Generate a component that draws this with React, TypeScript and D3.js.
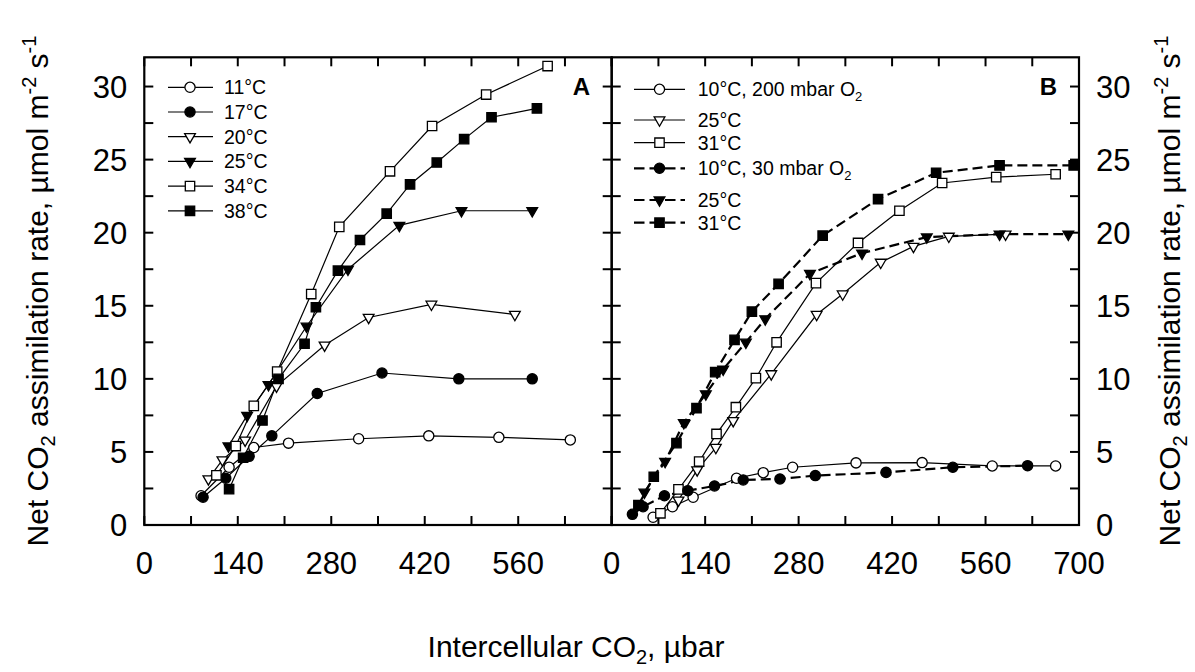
import React from 'react';
import * as d3 from 'd3';

const W = 1195;
const H = 672;
const FONT = "'Liberation Sans', Arial, Helvetica, sans-serif";

// ---------- Panel A data (intercellular CO2, µbar ; net assimilation) ----------
const a11X = [85, 127, 164, 216, 321, 426, 531, 638];
const a11Y = [2.0, 3.95, 5.3, 5.6, 5.9, 6.1, 6.0, 5.82];
const a17X = [88, 122, 157, 191, 259, 356, 471, 581];
const a17Y = [1.9, 3.2, 4.7, 6.1, 9.0, 10.4, 10.0, 10.0];
const a20X = [96, 117, 151, 198, 270, 336, 430, 555];
const a20Y = [3.15, 4.45, 5.8, 9.5, 12.3, 14.2, 15.1, 14.4];
const a25X = [126, 154, 186, 243, 305, 382, 475, 581];
const a25Y = [5.4, 7.5, 9.6, 13.6, 17.5, 20.5, 21.5, 21.5];
const a34X = [108, 137, 164, 199, 250, 292, 368, 431, 512, 604];
const a34Y = [3.4, 5.4, 8.15, 10.5, 15.8, 20.4, 24.2, 27.3, 29.45, 31.4];
const a38X = [127, 148, 177, 201, 240, 257, 290, 323, 363, 398, 438, 479, 520, 588];
const a38Y = [2.45, 4.6, 7.15, 10.0, 12.4, 14.9, 17.4, 19.5, 21.3, 23.3, 24.8, 26.4, 27.9, 28.5];

// ---------- Panel B data ----------
const b10hX = [62, 91, 122, 187, 227, 271, 366, 465, 570, 665];
const b10hY = [0.53, 1.25, 1.9, 3.2, 3.58, 3.95, 4.25, 4.27, 4.04, 4.04];
const b25hX = [100, 128, 156, 182, 239, 307, 346, 403, 452, 505, 590];
const b25hY = [1.7, 3.77, 5.3, 7.14, 10.34, 14.4, 15.8, 17.97, 19.06, 19.75, 19.9];
const b31hX = [73, 100, 131, 157, 186, 216, 247, 306, 369, 431, 495, 576, 665];
const b31hY = [0.8, 2.44, 4.34, 6.23, 8.06, 10.05, 12.5, 16.55, 19.3, 21.5, 23.4, 23.8, 24.0];
const b10lX = [31, 47, 79, 114, 154, 197, 252, 305, 411, 511, 623];
const b10lY = [0.73, 1.25, 2.0, 2.35, 2.67, 3.08, 3.15, 3.38, 3.6, 3.95, 4.06];
const b25lX = [49, 80, 108, 141, 167, 201, 230, 297, 375, 472, 581, 684];
const b25lY = [2.24, 4.34, 7.0, 8.97, 10.66, 12.5, 14.1, 17.2, 18.6, 19.7, 19.9, 19.9];
const b31lX = [40, 63, 97, 127, 155, 184, 210, 250, 316, 399, 486, 581, 692];
const b31lY = [1.37, 3.3, 5.6, 8.0, 10.46, 12.67, 14.6, 16.5, 19.8, 22.3, 24.1, 24.6, 24.6];

// ---------- labels / ticks ----------
const legendA = ['11°C', '17°C', '20°C', '25°C', '34°C', '38°C'];
const legendB = ['10°C, 200 mbar O', '25°C', '31°C', '10°C, 30 mbar O', '25°C', '31°C'];
const legendBSub = [true, false, false, true, false, false];
const xTickLabelsA = [0, 140, 280, 420, 560];
const xTickLabelsB = [0, 140, 280, 420, 560, 700];
const yTickLabels = [0, 5, 10, 15, 20, 25, 30];
const xMinorTicks = [0, 70, 140, 210, 280, 350, 420, 490, 560, 630, 700];
const yMinorTicks = [0, 2.5, 5, 7.5, 10, 12.5, 15, 17.5, 20, 22.5, 25, 27.5, 30];

type Marker = 'circleOpen' | 'circleFilled' | 'triOpen' | 'triFilled' | 'sqOpen' | 'sqFilled';
interface Series { xs: number[]; ys: number[]; marker: Marker; dashed: boolean; }

const seriesA: Series[] = [
  { xs: a11X, ys: a11Y, marker: 'circleOpen', dashed: false },
  { xs: a17X, ys: a17Y, marker: 'circleFilled', dashed: false },
  { xs: a20X, ys: a20Y, marker: 'triOpen', dashed: false },
  { xs: a25X, ys: a25Y, marker: 'triFilled', dashed: false },
  { xs: a34X, ys: a34Y, marker: 'sqOpen', dashed: false },
  { xs: a38X, ys: a38Y, marker: 'sqFilled', dashed: false },
];
const seriesB: Series[] = [
  { xs: b10hX, ys: b10hY, marker: 'circleOpen', dashed: false },
  { xs: b25hX, ys: b25hY, marker: 'triOpen', dashed: false },
  { xs: b31hX, ys: b31hY, marker: 'sqOpen', dashed: false },
  { xs: b10lX, ys: b10lY, marker: 'circleFilled', dashed: true },
  { xs: b25lX, ys: b25lY, marker: 'triFilled', dashed: true },
  { xs: b31lX, ys: b31lY, marker: 'sqFilled', dashed: true },
];

const xA = d3.scaleLinear().domain([0, 700]).range([144.3, 611.7]);
const xB = d3.scaleLinear().domain([0, 700]).range([611.7, 1079]);
const y = d3.scaleLinear().domain([0, 32]).range([525, 57.3]);

const circlePath = d3.symbol().type(d3.symbolCircle).size(82)()!;
const squarePath = d3.symbol().type(d3.symbolSquare).size(88)()!;
const triPath = d3.symbol().type(d3.symbolTriangle).size(50)()!;

function MarkerShape({ m, cx, cy }: { m: Marker; cx: number; cy: number }) {
  const filled = m.endsWith('Filled');
  const fill = filled ? '#000' : '#fff';
  let d = circlePath;
  let tr = `translate(${cx},${cy})`;
  if (m.startsWith('sq')) d = squarePath;
  if (m.startsWith('tri')) { d = triPath; tr += ' rotate(180)'; }
  return <path d={d} transform={tr} fill={fill} stroke="#000" strokeWidth={1.3} />;
}

function Panel({ xs, series }: { xs: d3.ScaleLinear<number, number>; series: Series[] }) {
  const line = d3.line<[number, number]>().x(d => xs(d[0])).y(d => y(d[1]));
  return (
    <g>
      {series.map((s, i) => (
        <path key={'l' + i}
          d={line(s.xs.map((v, j) => [v, s.ys[j]] as [number, number])) || ''}
          fill="none" stroke="#000"
          strokeWidth={s.dashed ? 2.2 : 1.2}
          strokeDasharray={s.dashed ? '10,5' : undefined} />
      ))}
      {series.map((s, i) => (
        <g key={'m' + i}>
          {s.xs.map((v, j) => <MarkerShape key={j} m={s.marker} cx={xs(v)} cy={y(s.ys[j])} />)}
        </g>
      ))}
    </g>
  );
}

function Frame({ xs, labels, leftLabels, rightLabels }: {
  xs: d3.ScaleLinear<number, number>; labels: number[]; leftLabels: boolean; rightLabels: boolean;
}) {
  const [x0, x1] = xs.range();
  const [yb, yt] = y.range();
  const tl = 9;
  return (
    <g>
      {xMinorTicks.map(t => (
        <g key={'xt' + t}>
          <line x1={xs(t)} x2={xs(t)} y1={yb} y2={yb - tl} stroke="#000" strokeWidth={2} />
          <line x1={xs(t)} x2={xs(t)} y1={yt} y2={yt + tl} stroke="#000" strokeWidth={2} />
        </g>
      ))}
      {yMinorTicks.map(t => (
        <g key={'yt' + t}>
          <line x1={x0} x2={x0 + tl} y1={y(t)} y2={y(t)} stroke="#000" strokeWidth={2} />
          <line x1={x1} x2={x1 - tl} y1={y(t)} y2={y(t)} stroke="#000" strokeWidth={2} />
        </g>
      ))}
      <rect x={x0} y={yt} width={x1 - x0} height={yb - yt} fill="none" stroke="#000" strokeWidth={2.2} />
      {labels.map(t => (
        <text key={'xl' + t} x={xs(t)} y={574} textAnchor="middle" fontSize={31} fontFamily={FONT}>{t}</text>
      ))}
      {leftLabels && yTickLabels.map(t => (
        <text key={'yl' + t} x={x0 - 17} y={y(t) + 11} textAnchor="end" fontSize={31} fontFamily={FONT}>{t}</text>
      ))}
      {rightLabels && yTickLabels.map(t => (
        <text key={'yr' + t} x={x1 + 17} y={y(t) + 11} textAnchor="start" fontSize={31} fontFamily={FONT}>{t}</text>
      ))}
    </g>
  );
}

function YTitle({ x, cy }: { x: number; cy: number }) {
  return (
    <text transform={`translate(${x},${cy}) rotate(-90)`} textAnchor="middle" fontSize={30} fontFamily={FONT}>
      <tspan>Net CO</tspan>
      <tspan fontSize={20} dy={7}>2</tspan>
      <tspan dy={-7}> assimilation rate, µmol m</tspan>
      <tspan fontSize={20} dy={-12}>-2</tspan>
      <tspan dy={12}> s</tspan>
      <tspan fontSize={20} dy={-12}>-1</tspan>
    </text>
  );
}

export default function App() {
  const legendAY = legendA.map((_, i) => 87.3 + i * 24.7);
  const legendBY = [89.3, 120, 142.7, 168.3, 200, 222.7];
  const markersA: Marker[] = seriesA.map(s => s.marker);
  return (
    <svg width={W} height={H} style={{ position: 'absolute', left: 0, top: 0, background: '#fff' }}
      xmlns="http://www.w3.org/2000/svg">
      <rect x={0} y={0} width={W} height={H} fill="#fff" />
      <Frame xs={xA} labels={xTickLabelsA} leftLabels={true} rightLabels={false} />
      <Frame xs={xB} labels={xTickLabelsB} leftLabels={false} rightLabels={true} />
      <Panel xs={xA} series={seriesA} />
      <Panel xs={xB} series={seriesB} />

      {/* Legend A */}
      {legendA.map((t, i) => (
        <g key={'la' + i}>
          <line x1={168} x2={213} y1={legendAY[i]} y2={legendAY[i]} stroke="#000" strokeWidth={1.2} />
          <MarkerShape m={markersA[i]} cx={190} cy={legendAY[i]} />
          <text x={224} y={legendAY[i] + 7} fontSize={19.5} fontFamily={FONT}>{t}</text>
        </g>
      ))}
      {/* Legend B */}
      {legendB.map((t, i) => (
        <g key={'lb' + i}>
          <line x1={634} x2={685} y1={legendBY[i]} y2={legendBY[i]} stroke="#000"
            strokeWidth={seriesB[i].dashed ? 2.2 : 1.2}
            strokeDasharray={seriesB[i].dashed ? '10.5,5' : undefined} />
          <MarkerShape m={seriesB[i].marker} cx={659.5} cy={legendBY[i]} />
          <text x={697.7} y={legendBY[i] + 7} fontSize={19.5} fontFamily={FONT}>
            {t}
            {legendBSub[i] && <tspan fontSize={13} dy={5}>2</tspan>}
          </text>
        </g>
      ))}

      <text x={590} y={95} textAnchor="end" fontSize={24} fontWeight="bold" fontFamily={FONT}>A</text>
      <text x={1057} y={95} textAnchor="end" fontSize={24} fontWeight="bold" fontFamily={FONT}>B</text>

      <YTitle x={48} cy={291} />
      <YTitle x={1180} cy={291} />

      <text x={576} y={657} textAnchor="middle" fontSize={30} fontFamily={FONT}>
        <tspan>Intercellular CO</tspan>
        <tspan fontSize={20} dy={7}>2</tspan>
        <tspan dy={-7}>, µbar</tspan>
      </text>
    </svg>
  );
}
